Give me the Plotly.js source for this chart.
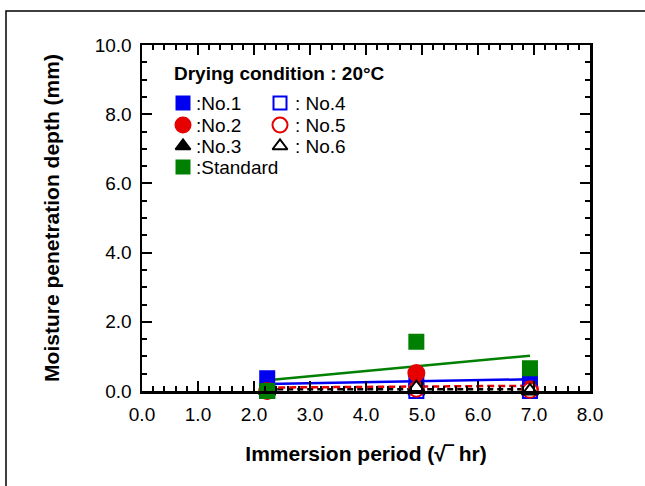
<!DOCTYPE html>
<html>
<head>
<meta charset="utf-8">
<script src="https://cdn.plot.ly/plotly-3.0.1.min.js"></script>
<style>
  html, body { margin: 0; padding: 0; background: #fff; }
  #chart { width: 645px; height: 486px; }
</style>
</head>
<body>
<div id="chart"></div>
<script>
// Immersion period in sqrt(hours): 5 h, 24 h, 48 h
const periodSqrtHr = [2.236, 4.899, 6.928];

// Moisture penetration depth (mm) per specimen
const no1 = [0.37, 0.30, 0.38];
const no2 = [0.00, 0.52, 0.05];
const no3 = [0.00, 0.00, 0.00];
const no4 = [0.00, 0.00, 0.00];
const no5 = [0.00, 0.05, 0.02];
const no6 = [0.00, 0.10, 0.00];
const standard = [0.00, 1.42, 0.66];

// Trend lines (start / end values over the immersion range)
const trendX = [2.236, 6.928];
const standardTrend = [0.31, 1.02];
const no1Trend = [0.20, 0.34];
const no2Trend = [0.10, 0.15];
const no3Trend = [0.05, 0.05];

// Axis tick values
const xTicks = [0, 1, 2, 3, 4, 5, 6, 7, 8];
const yTicks = [0, 2, 4, 6, 8, 10];

// Key texts
const keyTitle = 'Drying condition : 20°C';
const keyLabels = [':No.1', ': No.4', ':No.2', ': No.5', ':No.3', ': No.6', ':Standard'];

const BLUE = '#0000f0';
const RED = '#e60000';
const GREEN = '#008000';
const BLACK = '#000000';
const FONT = 'Arial, "Liberation Sans", sans-serif';

function pts(y, symbol, color, lineColor, size) {
  return {
    x: periodSqrtHr, y: y, type: 'scatter', mode: 'markers', cliponaxis: false,
    showlegend: false, hoverinfo: 'skip',
    marker: { symbol: symbol, size: size, color: color, line: { color: lineColor, width: 2 } }
  };
}
function trend(y, color, dash) {
  return {
    x: trendX, y: y, type: 'scatter', mode: 'lines', showlegend: false, hoverinfo: 'skip',
    line: { color: color, width: 2.5, dash: dash }
  };
}

const traces = [
  trend(no3Trend, BLACK, '6px,4px'),
  trend(no2Trend, RED, '7px,4px'),
  trend(no1Trend, BLUE, 'solid'),
  trend(standardTrend, GREEN, 'solid'),
  pts(no1, 'square', BLUE, BLUE, 14),
  pts(no2, 'circle', RED, RED, 16),
  pts(no3, 'triangle-up', BLACK, BLACK, 14),
  pts(no4, 'square', '#ffffff', BLUE, 14),
  pts(no5, 'circle', '#ffffff', RED, 15),
  pts(no6, 'triangle-up', '#ffffff', BLACK, 14),
  pts(standard, 'square', GREEN, GREEN, 14)
];

// Key drawn on an overlay axis measured in pixels of the plot area
const keyStyles = [
  { sym: 'square', fill: BLUE, edge: BLUE },
  { sym: 'square', fill: '#ffffff', edge: BLUE },
  { sym: 'circle', fill: RED, edge: RED },
  { sym: 'circle', fill: '#ffffff', edge: RED },
  { sym: 'triangle-up', fill: BLACK, edge: BLACK },
  { sym: 'triangle-up', fill: '#ffffff', edge: BLACK },
  { sym: 'square', fill: GREEN, edge: GREEN }
];
const keyCols = [183, 280];
const keyTextCols = [194, 293];
const keyRows = [103, 125, 146, 167];

const annotations = [{
  xref: 'x2', yref: 'y2', x: 172, y: 73, xanchor: 'left', yanchor: 'middle',
  text: '<b>' + keyTitle + '</b>', showarrow: false,
  font: { family: FONT, size: 19, color: BLACK }
}];

keyLabels.forEach((label, i) => {
  const col = i % 2, row = Math.floor(i / 2);
  const st = keyStyles[i];
  traces.push({
    x: [keyCols[col]], y: [keyRows[row]], xaxis: 'x2', yaxis: 'y2',
    type: 'scatter', mode: 'markers', showlegend: false, hoverinfo: 'skip', cliponaxis: false,
    marker: { symbol: st.sym, size: st.sym === 'circle' ? 15 : 13, color: st.fill,
              line: { color: st.edge, width: 2 } }
  });
  annotations.push({
    xref: 'x2', yref: 'y2', x: keyTextCols[col], y: keyRows[row],
    xanchor: 'left', yanchor: 'middle', text: label, showarrow: false,
    font: { family: FONT, size: 19, color: BLACK }
  });
});

const axisCommon = {
  showgrid: false, zeroline: false, showline: true, linecolor: BLACK, linewidth: 2.5,
  mirror: 'ticks', ticks: 'inside', ticklen: 10, tickwidth: 2, tickcolor: BLACK,
  tickformat: '.1f', tickfont: { family: FONT, size: 19, color: BLACK },
  fixedrange: true
};

const layout = {
  width: 645, height: 486,
  margin: { l: 142, r: 55, t: 45, b: 95 },
  paper_bgcolor: '#ffffff', plot_bgcolor: '#ffffff',
  font: { family: FONT, color: BLACK },
  xaxis: Object.assign({}, axisCommon, {
    range: [0, 8], tickvals: xTicks, ticklabelstandoff: 5,
    minor: { dtick: 0.2, ticks: 'inside', ticklen: 5, tickwidth: 2, tickcolor: BLACK },
    title: { text: '<b>Immersion period (√‾ hr)</b>', standoff: 22,
             font: { family: FONT, size: 21, color: BLACK } }
  }),
  yaxis: Object.assign({}, axisCommon, {
    range: [0, 10], tickvals: yTicks, ticklabelstandoff: 4,
    minor: { dtick: 0.5, ticks: 'inside', ticklen: 5, tickwidth: 2, tickcolor: BLACK },
    title: { text: '<b>Moisture penetration depth (mm)</b>', standoff: 30,
             font: { family: FONT, size: 21, color: BLACK } }
  }),
  xaxis2: { overlaying: 'x', range: [142, 590], visible: false, fixedrange: true },
  yaxis2: { overlaying: 'y', range: [391, 45], visible: false, fixedrange: true },
  annotations: annotations,
  shapes: [{
    type: 'rect', xref: 'paper', yref: 'paper',
    x0: (6 - 142) / 448, x1: 1.5, y0: -1.5, y1: (391 - 11) / 346,
    line: { color: BLACK, width: 1.5 }, fillcolor: 'rgba(0,0,0,0)', layer: 'below'
  }],
  showlegend: false
};

Plotly.newPlot('chart', traces, layout, { staticPlot: true, displayModeBar: false });
</script>
</body>
</html>
